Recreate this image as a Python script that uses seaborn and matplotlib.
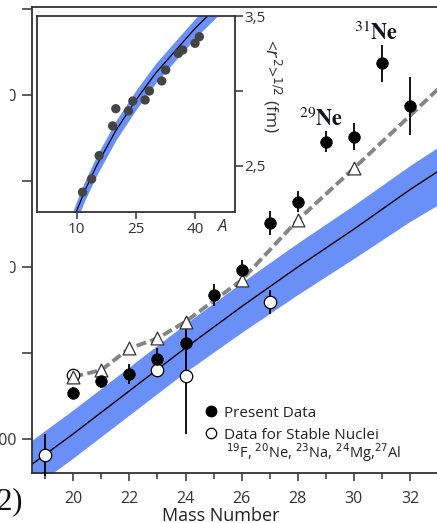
import numpy as np
import pandas as pd
import matplotlib
matplotlib.use("Agg")
import matplotlib.pyplot as plt
import seaborn as sns
from matplotlib.lines import Line2D
from matplotlib.patches import Rectangle

# ---------------- data ----------------
mass_present = [20, 21, 22, 23, 24, 25, 26, 27, 28, 29, 30, 31, 32]
sigma_present = [1226.6, 1233.9, 1237.8, 1246.5, 1255.6, 1283.7, 1298.3,
                 1325.8, 1338.0, 1372.9, 1375.8, 1418.4, 1393.6]
err_present = [3.5, 4.0, 6.0, 6.5, 7.0, 6.5, 6.0, 7.0, 6.0, 6.0, 8.0, 10.6, 16.7]

mass_stable = [19, 20, 23, 24, 27]
sigma_stable = [1190.7, 1237.2, 1240.1, 1236.8, 1279.8]
err_stable = [12.5, 3.0, 4.0, 34.0, 7.0]

mass_calc = [20, 21, 22, 23, 24, 26, 28, 30]
sigma_calc = [1236.2, 1240.1, 1252.7, 1258.5, 1268.2, 1292.4, 1327.3, 1357.4]
mass_calc_line = [20, 21, 22, 23, 24, 26, 28, 30, 32, 34]
sigma_calc_line = [1236.2, 1240.1, 1252.7, 1258.5, 1268.2, 1292.4, 1327.3,
                   1357.4, 1388.0, 1419.0]

mass_fit = [18.5, 20, 22, 24, 26, 28, 30, 32, 33.5]
sigma_fit = [1185, 1203, 1228, 1253, 1277, 1300, 1322, 1345, 1361]
sigma_fit_hi = [1199, 1217, 1242, 1267, 1291, 1314, 1336, 1359, 1375]
sigma_fit_lo = [1171, 1189, 1214, 1239, 1262, 1284, 1305, 1326.5, 1341]

x_ticks = [20, 22, 24, 26, 28, 30, 32]
y_ticks = [1200, 1300, 1400]

# inset
A_inset = [11.5, 13.8, 15.7, 19.1, 19.9, 23.1, 24.2, 27.3, 28.4, 31.5, 32.5,
           35.7, 36.8, 39.9, 41.0]
r_inset = [2.325, 2.413, 2.569, 2.767, 2.882, 2.867, 2.933, 2.94, 3.0, 3.067,
           3.14, 3.251, 3.273, 3.318, 3.362]
A_curve = [9, 10, 12, 15, 20, 25, 30, 35, 40, 45, 50]
r_curve = [2.13, 2.20, 2.33, 2.50, 2.74, 2.94, 3.12, 3.27, 3.42, 3.55, 3.67]
r_band = 0.065
inset_xticks = [10, 25, 40]
inset_yticks = [2.5, 3.0, 3.5]
inset_yticklabels = ["2,5", "", "3,5"]

# ---------------- style ----------------
sns.set_theme(style="ticks")
plt.rcParams["font.family"] = ["Open Sans", "DejaVu Sans"]
plt.rcParams["axes.edgecolor"] = "#333333"
plt.rcParams["xtick.color"] = "#333333"
plt.rcParams["ytick.color"] = "#333333"
plt.rcParams["text.color"] = "#222222"

BLUE = "#6a8ff7"
W, H = 437, 523

fig = plt.figure(figsize=(W / 100, H / 100), dpi=100)
fig.patch.set_facecolor("white")

# main axes (extends past right edge of the figure)
x0, x1, ytop, ybot = 32.3, 452.1, 7.3, 473.3
ax = fig.add_axes([x0 / W, (H - ybot) / H, (x1 - x0) / W, (ybot - ytop) / H])
ax.set_facecolor("white")

ax.fill_between(mass_fit, sigma_fit_lo, sigma_fit_hi, color=BLUE, lw=0, zorder=1)
sns.lineplot(x=mass_fit, y=sigma_fit, ax=ax, color="black", lw=1.0,
             sort=False, estimator=None, zorder=2)
sns.lineplot(x=mass_calc_line, y=sigma_calc_line, ax=ax, color="#858585", lw=2.8,
             linestyle=(0, (2.6, 1.1)), sort=False, estimator=None, zorder=3)

ax.errorbar(mass_stable, sigma_stable, yerr=err_stable, fmt="none",
            ecolor="black", elinewidth=1.3, capsize=0, zorder=4, clip_on=False)
ax.errorbar(mass_present, sigma_present, yerr=err_present, fmt="none",
            ecolor="black", elinewidth=1.3, capsize=0, zorder=4, clip_on=False)

sns.scatterplot(x=mass_stable, y=sigma_stable, ax=ax, marker="o", s=80,
                facecolor="white", edgecolor="black", linewidth=0.9, zorder=5)
sns.scatterplot(x=mass_calc, y=sigma_calc, ax=ax, marker="^", s=85,
                facecolor="white", edgecolor="#333333", linewidth=0.9, zorder=6)
sns.scatterplot(x=mass_present, y=sigma_present, ax=ax, marker="o", s=70,
                color="black", edgecolor="black", linewidth=0.5, zorder=7)

ax.set_xlim(18.54, 33.5)
ax.set_ylim(1180.06, 1451.0)
ax.set_xticks(x_ticks)
ax.set_xticks([19, 21, 23, 25, 27, 29, 31, 33], minor=True)
ax.set_yticks(y_ticks)
ax.set_yticks([1250, 1350, 1450], minor=True)
ax.tick_params(axis="x", which="major", length=6, width=1.1, pad=7, labelsize=11.5,
               labelcolor="#333333")
ax.tick_params(axis="x", which="minor", length=4, width=1.1)
ax.tick_params(axis="y", which="both", length=7, width=1.1, pad=4, labelsize=11.5,
               labelcolor="#333333")
for s in ax.spines.values():
    s.set_linewidth(1.3)
ax.set_xlabel("")
ax.set_ylabel("")

# legend
handles = [
    Line2D([], [], marker="o", ls="none", color="black", markersize=7.5),
    Line2D([], [], marker="o", ls="none", markerfacecolor="white",
           markeredgecolor="black", markersize=7.5, markeredgewidth=0.9),
]
leg = fig.legend(handles, ["Present Data", "Data for Stable Nuclei"],
                 loc="upper left", bbox_to_anchor=(193 / W, 1 - 395 / H),
                 frameon=False, fontsize=11, handlelength=0.9, handletextpad=0.4,
                 labelspacing=0.45, borderpad=0.2)
for t in leg.get_texts():
    t.set_color("#222222")
fig.text(226 / W, 1 - 458 / H,
         r"$^{19}$F, $^{20}$Ne, $^{23}$Na, $^{24}$Mg,$^{27}$Al",
         fontsize=10.5, ha="left", va="baseline", color="#222222")

# nucleus annotations
fig.text(354 / W, 1 - 40 / H, r"$^{31}\mathbf{Ne}$", fontsize=16,
         math_fontfamily="stix", ha="left", va="baseline", color="#111122")
fig.text(299 / W, 1 - 126 / H, r"$^{29}\mathbf{Ne}$", fontsize=16,
         math_fontfamily="stix", ha="left", va="baseline", color="#111122")

# axis label and panel tag
fig.text(221 / W, 1 - 521 / H, "Mass Number", fontsize=13, ha="center",
         va="baseline", color="#222222")
fig.text(23 / W, 1 - 509 / H, "(2)", fontsize=22, family=["Liberation Serif", "DejaVu Serif"],
         ha="right", va="baseline", color="#111111")

# ---------------- inset ----------------
ix0, ix1, iy0, iy1 = 37, 235, 16, 212
axi = fig.add_axes([ix0 / W, (H - iy1) / H, (ix1 - ix0) / W, (iy1 - iy0) / H])
axi.set_facecolor("white")
axi.set_zorder(10)
axi.fill_between(A_curve, [r - r_band for r in r_curve], [r + r_band for r in r_curve],
                 color=BLUE, lw=0, zorder=1)
sns.lineplot(x=A_curve, y=r_curve, ax=axi, color="black", lw=0.9,
             sort=False, estimator=None, zorder=2)
sns.scatterplot(x=A_inset, y=r_inset, ax=axi, color="#444444", s=45,
                edgecolor="none", zorder=3)
axi.set_xlim(0, 50)
axi.set_ylim(2.193, 3.5)
axi.set_xticks(inset_xticks)
axi.set_xticklabels([str(v) for v in inset_xticks])
axi.set_yticks(inset_yticks)
axi.set_yticklabels(inset_yticklabels)
axi.yaxis.tick_right()
axi.tick_params(axis="x", length=5, width=1.1, pad=2, labelsize=11, labelcolor="#333333")
axi.tick_params(axis="y", length=6, width=1.1, pad=1, labelsize=11, labelcolor="#333333")
for s in axi.spines.values():
    s.set_linewidth(1.3)
    s.set_visible(True)
axi.set_xlabel("")
axi.set_ylabel("")
axi.text(0.937, -0.075, "A", transform=axi.transAxes, fontsize=12, style="italic",
         ha="center", va="center", color="#333333")
fig.text(272 / W, 1 - 86 / H, r"<$r^2$>$^{1/2}$ (fm)", rotation=-90, fontsize=12.5,
         ha="center", va="center", color="#333333")

# the reference image is cropped: upper y tick labels are hidden at the far left
fig.add_artist(Rectangle((0, 1 - 420 / H), 9.5 / W, 420 / H, transform=fig.transFigure,
                         facecolor="white", edgecolor="none", zorder=100))

fig.savefig("out.png", dpi=100, facecolor="white")
